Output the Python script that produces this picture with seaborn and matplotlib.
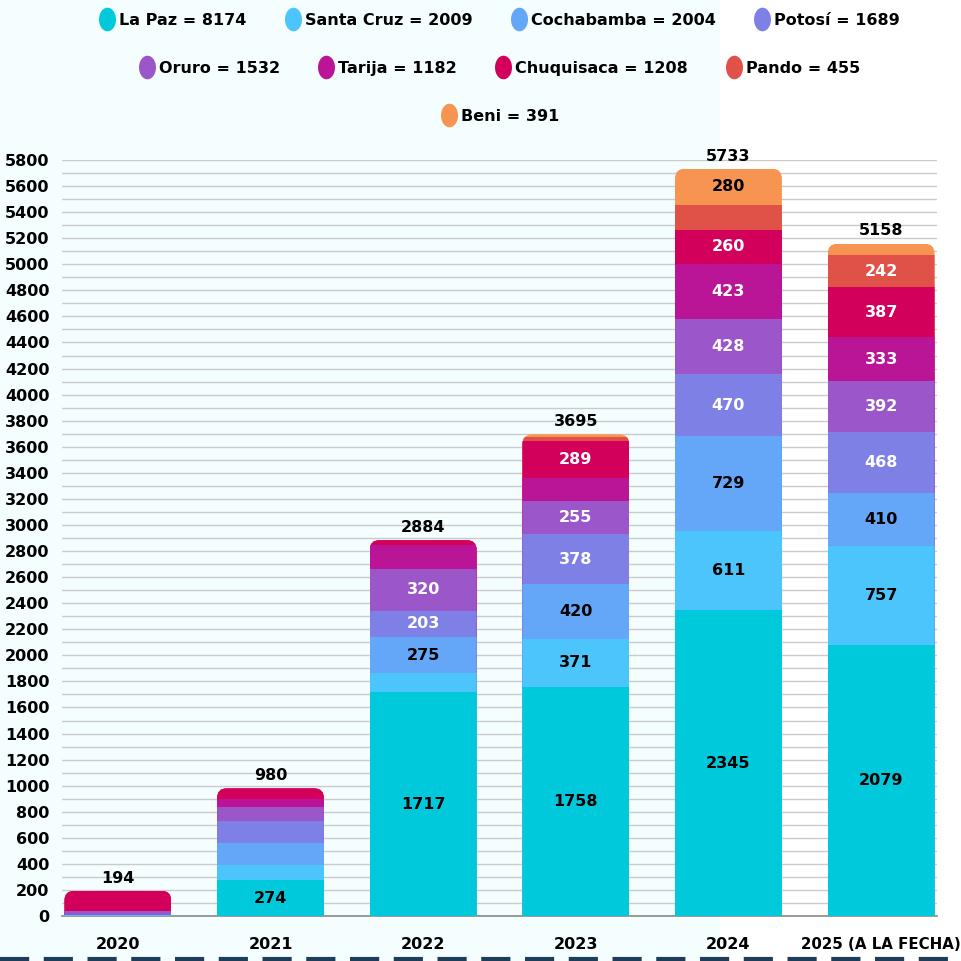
import numpy as np
import pandas as pd
import seaborn as sns
import matplotlib.pyplot as plt
from matplotlib.patches import FancyBboxPatch, Rectangle
from matplotlib.lines import Line2D

years = ["2020", "2021", "2022", "2023", "2024", "2025 (A LA FECHA)"]
depts = ["La Paz", "Santa Cruz", "Cochabamba", "Potosí", "Oruro",
         "Tarija", "Chuquisaca", "Pando", "Beni"]
dept_totals = [8174, 2009, 2004, 1689, 1532, 1182, 1208, 455, 391]

la_paz = [1, 274, 1717, 1758, 2345, 2079]
santa_cruz = [6, 117, 147, 371, 611, 757]
cochabamba = [0, 170, 275, 420, 729, 410]
potosi = [2, 168, 203, 378, 470, 468]
oruro = [33, 104, 320, 255, 428, 392]
tarija = [0, 62, 187, 177, 423, 333]
chuquisaca = [152, 85, 35, 289, 260, 387]
pando = [0, 0, 0, 26, 187, 242]
beni = [0, 0, 0, 21, 280, 90]

colors = ["#00C9DB", "#4CC5FD", "#64A6F8", "#7E80E6", "#9B56CA",
          "#BA1597", "#D2005B", "#E05247", "#F79451"]
label_colors = ["black", "black", "black", "white", "white",
                "white", "white", "white", "black"]

values = np.array([la_paz, santa_cruz, cochabamba, potosi, oruro,
                   tarija, chuquisaca, pando, beni])
cum = values.cumsum(axis=0)
totals = cum[-1]

plt.rcParams["font.family"] = ["DejaVu Sans"]
plt.rcParams["font.weight"] = "bold"
FS = 11.5

fig = plt.figure(figsize=(9.61, 9.61), dpi=100)
fig.patch.set_facecolor("white")
fig.patches.append(Rectangle((0, 0), 0.748, 1, transform=fig.transFigure,
                             color="#F5FEFF", zorder=-10))
ax = fig.add_axes([0.0645, 0.0468, 0.9105, 0.7867])
ax.set_facecolor("none")

# stacked bars: draw cumulative heights from top layer down
for k in range(len(depts) - 1, -1, -1):
    df = pd.DataFrame({"year": years, "value": cum[k]})
    sns.barplot(data=df, x="year", y="value", color=colors[k], saturation=1,
                width=0.7, ax=ax, order=years, zorder=3)

# rounded tops
rad = 0.065
asp = (5800 / 756) / (5.732 / 875)
clips = []
for i, t in enumerate(totals):
    clips.append(FancyBboxPatch((i - 0.35, -300), 0.7, t + 300,
                                boxstyle=f"round,pad=0,rounding_size={rad}",
                                mutation_aspect=asp, transform=ax.transData))
for p in ax.patches:
    i = int(round(p.get_x() + p.get_width() / 2))
    p.set_clip_path(clips[i])

# segment labels
for i in range(len(years)):
    for k in range(len(depts)):
        v = values[k, i]
        if v >= 200:
            ax.text(i, cum[k, i] - v / 2, str(v), ha="center", va="center",
                    fontsize=FS, fontweight="bold", color=label_colors[k],
                    zorder=5)
    ax.text(i, totals[i] + 40, str(totals[i]), ha="center", va="bottom",
            fontsize=FS, fontweight="bold", color="black", zorder=5,
            clip_on=False)

ax.set_xlim(-0.366, 5.366)
ax.set_ylim(0, 5800)
ax.set_yticks(range(0, 5801, 200))
ax.set_yticks(range(100, 5800, 200), minor=True)
ax.grid(axis="y", which="both", color="#CACACA", lw=1, zorder=0)
ax.grid(axis="x", visible=False)
ax.set_axisbelow(True)
ax.tick_params(axis="both", which="both", length=0)
ax.tick_params(axis="y", pad=9, labelsize=FS)
ax.tick_params(axis="x", pad=15, labelsize=FS)
for lab in ax.get_xticklabels() + ax.get_yticklabels():
    lab.set_fontweight("bold")
# last label is long, shrink it a little so it stays inside the figure
xl = ax.get_xticklabels()
xl[-1].set_fontsize(10.8)
ax.set_xlabel("")
ax.set_ylabel("")
for s in ["top", "right", "left"]:
    ax.spines[s].set_visible(False)
ax.spines["bottom"].set_color("#8A8A8A")
ax.spines["bottom"].set_linewidth(1.2)

# legend rows, dots are slightly tall ellipses
t = np.linspace(0, 2 * np.pi, 40)
dot = np.column_stack([0.72 * np.cos(t), np.sin(t)])
legend_labels = [f"{d} = {v}" for d, v in zip(depts, dept_totals)]
rows = [(range(0, 4), 0.979), (range(4, 8), 0.929), (range(8, 9), 0.879)]
for idx, y in rows:
    handles = [Line2D([], [], marker=dot, ls="", markersize=17,
                      markerfacecolor=colors[j], markeredgecolor="none")
               for j in idx]
    fig.legend(handles, [legend_labels[j] for j in idx], loc="center",
               bbox_to_anchor=(0.52, y), ncol=len(handles), frameon=False,
               prop={"weight": "bold", "size": FS}, handletextpad=0.25,
               columnspacing=2.4, handlelength=1.0)

# dashed line at the bottom
fig.add_artist(Line2D([0, 1], [0.002, 0.002], transform=fig.transFigure,
                      color="#1E3D59", lw=3, ls=(0, (7, 3.5))))

fig.savefig("out.png", dpi=100)
